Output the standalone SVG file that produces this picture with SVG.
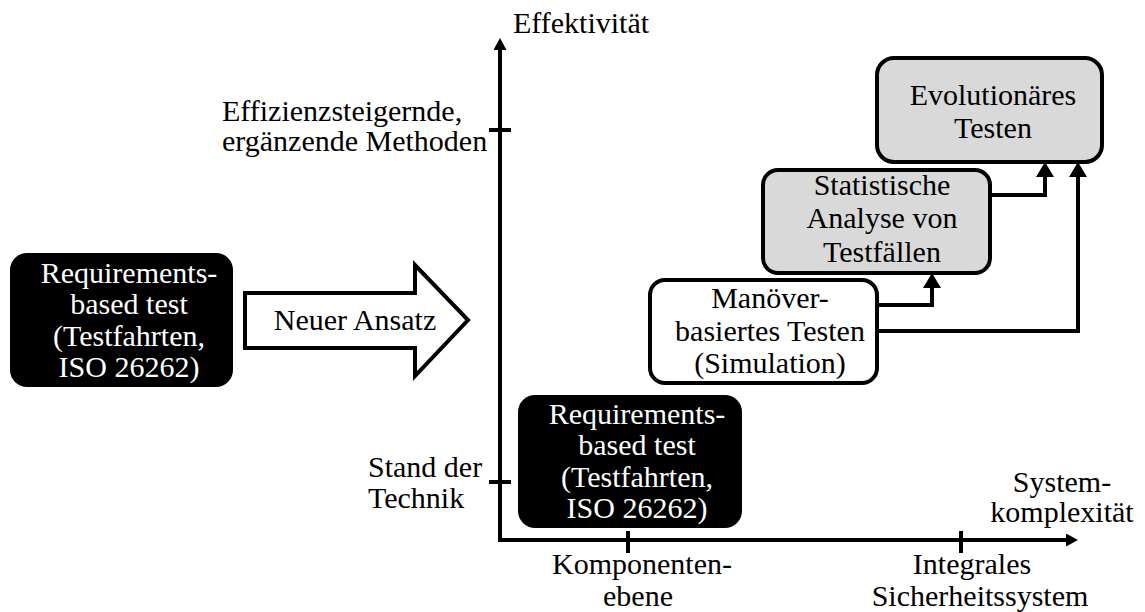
<svg xmlns="http://www.w3.org/2000/svg" width="1145" height="612" viewBox="0 0 1145 612" font-family="'Liberation Serif', 'DejaVu Serif', serif" font-size="30">
  <style>
    text { font-family: "Liberation Serif", "DejaVu Serif", serif; font-size: 30px; fill: #000; }
    .c { text-anchor: middle; }
    .w { fill: #fff; }
    .dark { fill: #000; }
    .box { stroke: #000; stroke-width: 4; }
    .grey { fill: #d9d9d9; }
    .white { fill: #fff; }
    .line { fill: none; stroke: #000; stroke-width: 4; stroke-linejoin: miter; stroke-linecap: butt; }
    .tick { stroke: #000; stroke-width: 4; }
  </style>
  <defs>
    <marker id="head" markerUnits="userSpaceOnUse" markerWidth="16" markerHeight="18" refX="0" refY="9" orient="auto">
      <path d="M0,0 L15,9 L0,18 z" fill="#000"/>
    </marker>
    <marker id="axishead" markerUnits="userSpaceOnUse" markerWidth="13" markerHeight="14" refX="0" refY="6.5" orient="auto">
      <path d="M0,0 L12,6.5 L0,13 z" fill="#000"/>
    </marker>
  </defs>

  <!-- axes with ticks -->
  <g id="axes">
    <path class="line" d="M500,540 V50" marker-end="url(#axishead)"/>
    <path class="line" d="M498,540 H1066" marker-end="url(#axishead)"/>
    <line class="tick" x1="489" y1="130" x2="511" y2="130"/>
    <line class="tick" x1="489" y1="482" x2="511" y2="482"/>
    <line class="tick" x1="628" y1="531" x2="628" y2="553"/>
    <line class="tick" x1="961" y1="531" x2="961" y2="553"/>
    <text x="513" y="33">Effektivität</text>
    <text x="222" y="121">Effizienzsteigernde,</text>
    <text x="222" y="151">ergänzende Methoden</text>
    <text x="368" y="477">Stand der</text>
    <text x="368" y="508">Technik</text>
    <text class="c" x="1062" y="492">System-</text>
    <text class="c" x="1062" y="522">komplexität</text>
    <text class="c" x="642" y="574">Komponenten-</text>
    <text class="c" x="638" y="606">ebene</text>
    <text class="c" x="972" y="574">Integrales</text>
    <text class="c" x="980" y="606">Sicherheitssystem</text>
  </g>

  <!-- state of the art, left -->
  <g id="rbt-left">
    <rect class="dark" x="10" y="253" width="223" height="134" rx="17"/>
    <text class="c w" x="129" y="283">Requirements-</text>
    <text class="c w" x="129" y="314">based test</text>
    <text class="c w" x="129" y="346">(Testfahrten,</text>
    <text class="c w" x="129" y="377">ISO 26262)</text>
  </g>

  <!-- block arrow -->
  <g id="neuer-ansatz">
    <polygon class="box white" points="245,293 415,293 415,265 468,320 415,376 415,348 245,348"/>
    <text class="c" x="355" y="330">Neuer Ansatz</text>
  </g>

  <!-- state of the art, in the chart -->
  <g id="rbt-chart">
    <rect class="dark" x="518" y="395" width="224" height="133" rx="17"/>
    <text class="c w" x="637" y="424">Requirements-</text>
    <text class="c w" x="637" y="455">based test</text>
    <text class="c w" x="637" y="487">(Testfahrten,</text>
    <text class="c w" x="637" y="518">ISO 26262)</text>
  </g>

  <g id="manoever">
    <rect class="box white" x="650" y="280" width="227" height="103" rx="15"/>
    <text class="c" x="770" y="308">Manöver-</text>
    <text class="c" x="770" y="341">basiertes Testen</text>
    <text class="c" x="770" y="373">(Simulation)</text>
  </g>

  <g id="statistik">
    <rect class="box grey" x="763" y="170" width="227" height="103" rx="15"/>
    <text class="c" x="882" y="195">Statistische</text>
    <text class="c" x="882" y="228">Analyse von</text>
    <text class="c" x="882" y="262">Testfällen</text>
  </g>

  <g id="evolution">
    <rect class="box grey" x="877" y="58" width="225" height="104" rx="17"/>
    <text class="c" x="993" y="105">Evolutionäres</text>
    <text class="c" x="993" y="138">Testen</text>
  </g>

  <!-- connectors -->
  <g id="connectors">
    <path class="line" d="M877,305 H932 V288" marker-end="url(#head)"/>
    <path class="line" d="M990,195 H1045 V177" marker-end="url(#head)"/>
    <path class="line" d="M877,331 H1078 V177" marker-end="url(#head)"/>
  </g>
</svg>
